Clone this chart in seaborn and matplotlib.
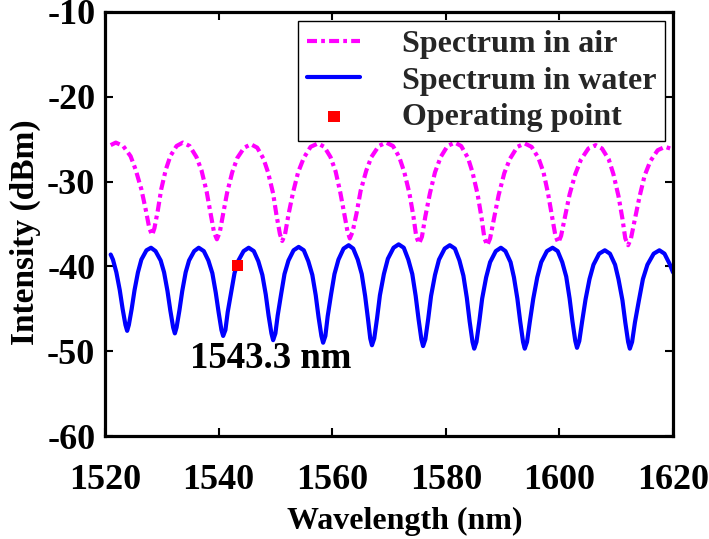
import matplotlib
matplotlib.use("Agg")
import matplotlib.pyplot as plt
import pandas as pd
import seaborn as sns

# ---- data ----
air_wl = [1521.0, 1521.9,
          1523.2, 1524.5, 1525.4, 1526.4, 1527.2, 1527.8, 1528.3,
          1528.7, 1529.3, 1529.9, 1530.7, 1531.5, 1532.6, 1533.7,
          1534.9, 1536.1, 1537.0, 1537.9, 1538.6, 1539.2, 1539.7,
          1540.2, 1540.8, 1541.5, 1542.4, 1543.3, 1544.5, 1545.7,
          1546.8, 1547.9, 1548.7, 1549.6, 1550.2, 1550.8, 1551.2,
          1551.7, 1552.3, 1553.1, 1554.0, 1555.0, 1556.2, 1557.5,
          1558.6, 1559.7, 1560.6, 1561.4, 1562.1, 1562.7, 1563.1,
          1563.6, 1564.3, 1565.0, 1566.0, 1566.9, 1568.2, 1569.5,
          1570.7, 1571.8, 1572.7, 1573.6, 1574.3, 1574.8, 1575.3,
          1575.8, 1576.4, 1577.2, 1578.1, 1579.1, 1580.3, 1581.6,
          1582.7, 1583.9, 1584.7, 1585.6, 1586.3, 1586.8, 1587.3,
          1587.8, 1588.5, 1589.3, 1590.3, 1591.3, 1592.6, 1593.9,
          1595.1, 1596.3, 1597.2, 1598.0, 1598.7, 1599.3, 1599.8,
          1600.3, 1601.0, 1601.8, 1602.8, 1603.8, 1605.1, 1606.4,
          1607.5, 1608.7, 1609.5, 1610.4, 1611.1, 1611.6, 1612.1,
          1612.6, 1613.3, 1614.1, 1615.0, 1616.0, 1617.3, 1618.6,
          1620.0]
air_db = [-25.7, -25.4,
          -25.8, -27.0, -28.6, -30.9, -33.4, -35.5, -36.3,
          -35.5, -33.4, -30.9, -28.6, -27.0, -25.8, -25.4,
          -25.8, -27.1, -28.7, -31.2, -33.8, -36.0, -36.8,
          -36.0, -33.8, -31.3, -28.9, -27.2, -26.0, -25.6,
          -26.0, -27.3, -28.9, -31.4, -34.0, -36.2, -37.0,
          -36.2, -33.9, -31.3, -28.9, -27.2, -25.9, -25.5,
          -25.9, -27.1, -28.8, -31.2, -33.7, -35.9, -36.7,
          -35.9, -33.7, -31.1, -28.7, -27.1, -25.8, -25.4,
          -25.8, -27.1, -28.9, -31.4, -34.1, -36.5, -37.3,
          -36.5, -34.1, -31.4, -28.9, -27.1, -25.8, -25.4,
          -25.8, -27.2, -28.9, -31.5, -34.3, -36.7, -37.5,
          -36.7, -34.3, -31.6, -29.0, -27.3, -25.9, -25.5,
          -25.9, -27.2, -28.9, -31.4, -34.1, -36.4, -37.2,
          -36.4, -34.1, -31.5, -29.1, -27.4, -26.1, -25.7,
          -26.1, -27.4, -29.1, -31.7, -34.4, -36.7, -37.5,
          -36.7, -34.4, -31.8, -29.3, -27.6, -26.3, -25.9,
          -26.2]

water_wl = [1521.0, 1521.4, 1522.0, 1522.6, 1523.1, 1523.6, 1523.9,
            1524.2, 1524.7, 1525.2, 1525.8, 1526.4, 1527.3, 1528.1,
            1528.9, 1529.8, 1530.4, 1531.0, 1531.5, 1532.0, 1532.3,
            1532.6, 1533.1, 1533.6, 1534.2, 1534.8, 1535.7, 1536.5,
            1537.4, 1538.2, 1538.9, 1539.5, 1540.0, 1540.5, 1540.8,
            1541.2, 1541.6, 1542.2, 1542.8, 1543.5, 1544.4, 1545.3,
            1546.2, 1547.0, 1547.7, 1548.3, 1548.8, 1549.3, 1549.6,
            1550.0, 1550.4, 1551.0, 1551.6, 1552.3, 1553.2, 1554.1,
            1555.0, 1555.8, 1556.5, 1557.1, 1557.6, 1558.1, 1558.4,
            1558.8, 1559.2, 1559.8, 1560.4, 1561.1, 1562.0, 1562.9,
            1563.7, 1564.5, 1565.2, 1565.8, 1566.3, 1566.7, 1567.0,
            1567.4, 1567.9, 1568.4, 1569.1, 1569.8, 1570.8, 1571.7,
            1572.6, 1573.4, 1574.1, 1574.7, 1575.2, 1575.7, 1576.0,
            1576.4, 1576.9, 1577.4, 1578.1, 1578.8, 1579.8, 1580.7,
            1581.6, 1582.4, 1583.1, 1583.7, 1584.2, 1584.7, 1585.0,
            1585.4, 1585.9, 1586.4, 1587.1, 1587.8, 1588.8, 1589.7,
            1590.5, 1591.4, 1592.0, 1592.6, 1593.1, 1593.6, 1593.9,
            1594.3, 1594.8, 1595.4, 1596.1, 1596.8, 1597.8, 1598.8,
            1599.7, 1600.5, 1601.2, 1601.8, 1602.3, 1602.8, 1603.1,
            1603.5, 1604.0, 1604.6, 1605.3, 1606.0, 1607.0, 1608.0,
            1608.9, 1609.8, 1610.4, 1611.1, 1611.6, 1612.1, 1612.4,
            1612.8, 1613.3, 1614.0, 1614.7, 1615.5, 1616.6, 1617.6,
            1618.5, 1619.4, 1620.0]
water_db = [-38.6, -39.2, -40.7, -42.8, -45.0, -46.9, -47.6,
            -46.9, -45.0, -42.8, -40.7, -39.2, -38.1, -37.8,
            -38.2, -39.3, -40.7, -42.9, -45.2, -47.2, -47.9,
            -47.2, -45.2, -42.9, -40.7, -39.3, -38.2, -37.8,
            -38.2, -39.3, -40.8, -43.1, -45.4, -47.5, -48.2,
            -47.5, -45.4, -43.1, -40.8, -39.3, -38.2, -37.8,
            -38.2, -39.4, -41.0, -43.3, -45.8, -47.9, -48.7,
            -47.9, -45.8, -43.3, -40.9, -39.3, -38.1, -37.7,
            -38.1, -39.4, -41.0, -43.4, -46.0, -48.2, -49.0,
            -48.2, -45.9, -43.3, -40.9, -39.2, -37.9, -37.5,
            -37.9, -39.2, -40.9, -43.5, -46.2, -48.5, -49.3,
            -48.5, -46.1, -43.4, -40.9, -39.1, -37.8, -37.4,
            -37.8, -39.2, -40.9, -43.5, -46.2, -48.6, -49.4,
            -48.6, -46.2, -43.5, -41.0, -39.2, -37.9, -37.5,
            -37.9, -39.3, -41.1, -43.7, -46.5, -48.9, -49.7,
            -48.9, -46.5, -43.8, -41.3, -39.5, -38.2, -37.8,
            -38.2, -39.5, -41.3, -43.8, -46.5, -48.9, -49.7,
            -48.9, -46.5, -43.8, -41.3, -39.5, -38.2, -37.8,
            -38.2, -39.5, -41.2, -43.8, -46.5, -48.8, -49.6,
            -48.8, -46.5, -43.9, -41.5, -39.8, -38.5, -38.1,
            -38.5, -39.8, -41.5, -44.0, -46.6, -48.9, -49.7,
            -48.9, -46.6, -44.0, -41.5, -39.8, -38.5, -38.1,
            -38.5, -39.7, -40.7]

op_wl = [1543.3]
op_db = [-39.9]

series_labels = ["Spectrum in air", "Spectrum in water", "Operating point"]
x_ticks = [1520, 1540, 1560, 1580, 1600, 1620]
y_ticks = [-60, -50, -40, -30, -20, -10]
x_label = "Wavelength (nm)"
y_label = "Intensity (dBm)"
annotation_text = "1543.3 nm"

# ---- style ----
sns.set_theme(style="ticks")
plt.rcParams["font.family"] = ["Liberation Serif", "DejaVu Serif"]
plt.rcParams["font.weight"] = "bold"
plt.rcParams["axes.labelweight"] = "bold"

fig = plt.figure(figsize=(7.09, 5.39), dpi=100)
ax = fig.add_axes([105 / 709, 1 - 436 / 539, 568 / 709, 424 / 539])

air_df = pd.DataFrame({"wl": air_wl, "db": air_db})
water_df = pd.DataFrame({"wl": water_wl, "db": water_db})
op_df = pd.DataFrame({"wl": op_wl, "db": op_db})

sns.lineplot(data=air_df, x="wl", y="db", ax=ax, color="#ff00ff",
             linewidth=3.0, sort=False, estimator=None, label=series_labels[0])
air_line = ax.lines[-1]
air_line.set_dashes([2.4, 1.0, 0.9, 1.0])

sns.lineplot(data=water_df, x="wl", y="db", ax=ax, color="#0000ff",
             linewidth=3.0, sort=False, estimator=None, label=series_labels[1])
water_line = ax.lines[-1]

sns.scatterplot(data=op_df, x="wl", y="db", ax=ax, marker="s", s=70,
                color="#ff0000", edgecolor="none", zorder=5,
                label=series_labels[2])
op_pts = ax.collections[-1]

ax.set_xlim(1520, 1620)
ax.set_ylim(-60, -10)
ax.set_xticks(x_ticks)
ax.set_yticks(y_ticks)
ax.set_xticklabels([str(v) for v in x_ticks])
ax.set_yticklabels([str(v) for v in y_ticks])

ax.tick_params(direction="in", length=6, width=1.5, top=True, right=True,
               labelsize=26, colors="black")
ax.tick_params(axis="x", pad=20)
ax.tick_params(axis="y", pad=7)
for lab in ax.get_xticklabels() + ax.get_yticklabels():
    lab.set_fontweight("bold")

for sp in ax.spines.values():
    sp.set_linewidth(2.3)
    sp.set_color("black")

ax.set_xlabel(x_label, fontsize=23, fontweight="bold", color="black")
ax.set_ylabel(y_label, fontsize=24, fontweight="bold", color="black")
ax.xaxis.set_label_coords(0.528, -0.167)
ax.yaxis.set_label_coords(-0.112, 0.48)

ax.text(1535.0, -52.0, annotation_text, fontsize=26.5, fontweight="bold",
        ha="left", va="baseline", color="black")

leg = ax.legend([air_line, water_line, op_pts], series_labels,
                loc="upper right", bbox_to_anchor=(0.986, 0.979),
                fontsize=23, frameon=True, fancybox=False,
                edgecolor="black", framealpha=1, borderaxespad=0,
                handlelength=1.65, handletextpad=1.3, labelspacing=0.22,
                borderpad=0.28)
leg.get_frame().set_linewidth(1.0)
for t in leg.get_texts():
    t.set_fontweight("bold")

fig.savefig("out.png", dpi=100)
